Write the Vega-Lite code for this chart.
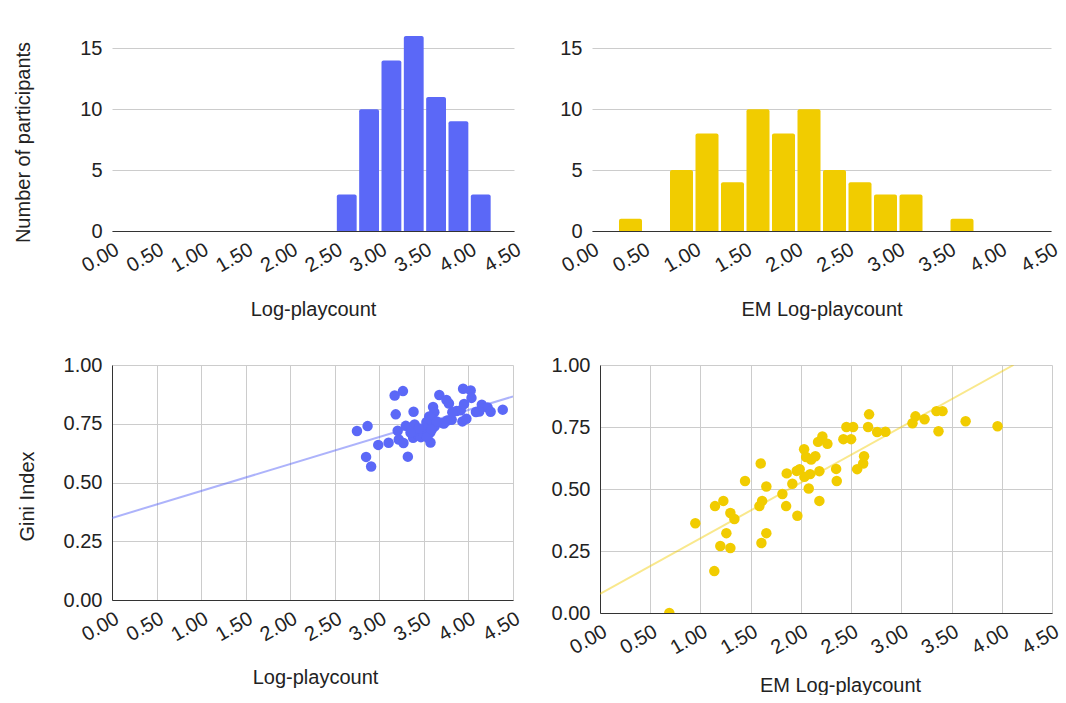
{
  "$schema": "https://vega.github.io/schema/vega-lite/v6.json",
  "background": "white",
  "autosize": {"type": "pad"},
  "padding": {"left": 12, "top": 36, "right": 0, "bottom": 0},
  "config": {
    "font": "Liberation Sans",
    "view": {"stroke": null},
    "axis": {
      "labelFont": "Liberation Sans",
      "labelFontSize": 20,
      "labelColor": "#222222",
      "labelPadding": 10,
      "labelFlush": false,
      "labelOverlap": false,
      "labelBound": false,
      "titleFont": "Liberation Sans",
      "titleFontSize": 20,
      "titleFontWeight": "normal",
      "titleColor": "#222222",
      "gridColor": "#cccccc",
      "domainColor": "#333333",
      "ticks": false
    }
  },
  "datasets": {
    "hist_log": [
      {"bin_start": 2.5, "bin_end": 2.75, "count": 3},
      {"bin_start": 2.75, "bin_end": 3.0, "count": 10},
      {"bin_start": 3.0, "bin_end": 3.25, "count": 14},
      {"bin_start": 3.25, "bin_end": 3.5, "count": 16},
      {"bin_start": 3.5, "bin_end": 3.75, "count": 11},
      {"bin_start": 3.75, "bin_end": 4.0, "count": 9},
      {"bin_start": 4.0, "bin_end": 4.25, "count": 3}
    ],
    "hist_em": [
      {"bin_start": 0.25, "bin_end": 0.5, "count": 1},
      {"bin_start": 0.75, "bin_end": 1.0, "count": 5},
      {"bin_start": 1.0, "bin_end": 1.25, "count": 8},
      {"bin_start": 1.25, "bin_end": 1.5, "count": 4},
      {"bin_start": 1.5, "bin_end": 1.75, "count": 10},
      {"bin_start": 1.75, "bin_end": 2.0, "count": 8},
      {"bin_start": 2.0, "bin_end": 2.25, "count": 10},
      {"bin_start": 2.25, "bin_end": 2.5, "count": 5},
      {"bin_start": 2.5, "bin_end": 2.75, "count": 4},
      {"bin_start": 2.75, "bin_end": 3.0, "count": 3},
      {"bin_start": 3.0, "bin_end": 3.25, "count": 3},
      {"bin_start": 3.5, "bin_end": 3.75, "count": 1}
    ],
    "gini_log": [
      {"playcount": 2.749, "gini": 0.719},
      {"playcount": 2.868, "gini": 0.740},
      {"playcount": 2.851, "gini": 0.609},
      {"playcount": 2.908, "gini": 0.568},
      {"playcount": 2.988, "gini": 0.660},
      {"playcount": 3.104, "gini": 0.669},
      {"playcount": 3.172, "gini": 0.870},
      {"playcount": 3.265, "gini": 0.889},
      {"playcount": 3.184, "gini": 0.790},
      {"playcount": 3.206, "gini": 0.720},
      {"playcount": 3.218, "gini": 0.683},
      {"playcount": 3.271, "gini": 0.668},
      {"playcount": 3.297, "gini": 0.741},
      {"playcount": 3.320, "gini": 0.610},
      {"playcount": 3.384, "gini": 0.801},
      {"playcount": 3.396, "gini": 0.747},
      {"playcount": 3.379, "gini": 0.690},
      {"playcount": 3.435, "gini": 0.702},
      {"playcount": 3.467, "gini": 0.693},
      {"playcount": 3.498, "gini": 0.709},
      {"playcount": 3.554, "gini": 0.707},
      {"playcount": 3.574, "gini": 0.670},
      {"playcount": 3.603, "gini": 0.821},
      {"playcount": 3.617, "gini": 0.799},
      {"playcount": 3.560, "gini": 0.781},
      {"playcount": 3.592, "gini": 0.771},
      {"playcount": 3.622, "gini": 0.739},
      {"playcount": 3.673, "gini": 0.872},
      {"playcount": 3.753, "gini": 0.851},
      {"playcount": 3.781, "gini": 0.836},
      {"playcount": 3.724, "gini": 0.751},
      {"playcount": 3.762, "gini": 0.764},
      {"playcount": 3.812, "gini": 0.767},
      {"playcount": 3.866, "gini": 0.804},
      {"playcount": 3.914, "gini": 0.807},
      {"playcount": 3.951, "gini": 0.834},
      {"playcount": 3.932, "gini": 0.760},
      {"playcount": 3.977, "gini": 0.771},
      {"playcount": 3.940, "gini": 0.899},
      {"playcount": 4.025, "gini": 0.892},
      {"playcount": 4.034, "gini": 0.860},
      {"playcount": 4.084, "gini": 0.800},
      {"playcount": 4.150, "gini": 0.831},
      {"playcount": 4.215, "gini": 0.819},
      {"playcount": 4.249, "gini": 0.801},
      {"playcount": 4.385, "gini": 0.810},
      {"playcount": 3.528, "gini": 0.757},
      {"playcount": 3.509, "gini": 0.730},
      {"playcount": 3.441, "gini": 0.730},
      {"playcount": 3.713, "gini": 0.753},
      {"playcount": 3.819, "gini": 0.799},
      {"playcount": 4.121, "gini": 0.802},
      {"playcount": 3.574, "gini": 0.714},
      {"playcount": 3.535, "gini": 0.693},
      {"playcount": 3.350, "gini": 0.713},
      {"playcount": 3.588, "gini": 0.726},
      {"playcount": 3.645, "gini": 0.760}
    ],
    "trend_log": [
      {"playcount": 0, "gini": 0.349},
      {"playcount": 4.5, "gini": 0.866}
    ],
    "gini_em": [
      {"playcount": 0.690, "gini": 0.0},
      {"playcount": 0.949, "gini": 0.362},
      {"playcount": 1.138, "gini": 0.169},
      {"playcount": 1.145, "gini": 0.431},
      {"playcount": 1.228, "gini": 0.452},
      {"playcount": 1.198, "gini": 0.270},
      {"playcount": 1.258, "gini": 0.322},
      {"playcount": 1.298, "gini": 0.262},
      {"playcount": 1.298, "gini": 0.403},
      {"playcount": 1.338, "gini": 0.379},
      {"playcount": 1.444, "gini": 0.532},
      {"playcount": 1.600, "gini": 0.603},
      {"playcount": 1.587, "gini": 0.431},
      {"playcount": 1.614, "gini": 0.452},
      {"playcount": 1.607, "gini": 0.282},
      {"playcount": 1.656, "gini": 0.322},
      {"playcount": 1.656, "gini": 0.510},
      {"playcount": 1.816, "gini": 0.480},
      {"playcount": 1.853, "gini": 0.431},
      {"playcount": 1.859, "gini": 0.563},
      {"playcount": 1.915, "gini": 0.521},
      {"playcount": 1.958, "gini": 0.573},
      {"playcount": 1.965, "gini": 0.392},
      {"playcount": 1.988, "gini": 0.580},
      {"playcount": 2.032, "gini": 0.660},
      {"playcount": 2.052, "gini": 0.629},
      {"playcount": 2.078, "gini": 0.502},
      {"playcount": 2.035, "gini": 0.549},
      {"playcount": 2.092, "gini": 0.560},
      {"playcount": 2.102, "gini": 0.619},
      {"playcount": 2.144, "gini": 0.632},
      {"playcount": 2.171, "gini": 0.690},
      {"playcount": 2.184, "gini": 0.572},
      {"playcount": 2.184, "gini": 0.452},
      {"playcount": 2.214, "gini": 0.712},
      {"playcount": 2.264, "gini": 0.682},
      {"playcount": 2.351, "gini": 0.581},
      {"playcount": 2.357, "gini": 0.532},
      {"playcount": 2.423, "gini": 0.701},
      {"playcount": 2.453, "gini": 0.750},
      {"playcount": 2.500, "gini": 0.701},
      {"playcount": 2.520, "gini": 0.750},
      {"playcount": 2.560, "gini": 0.580},
      {"playcount": 2.620, "gini": 0.603},
      {"playcount": 2.629, "gini": 0.632},
      {"playcount": 2.669, "gini": 0.750},
      {"playcount": 2.679, "gini": 0.801},
      {"playcount": 2.759, "gini": 0.730},
      {"playcount": 2.842, "gini": 0.731},
      {"playcount": 3.111, "gini": 0.765},
      {"playcount": 3.141, "gini": 0.793},
      {"playcount": 3.231, "gini": 0.781},
      {"playcount": 3.350, "gini": 0.814},
      {"playcount": 3.410, "gini": 0.814},
      {"playcount": 3.370, "gini": 0.733},
      {"playcount": 3.640, "gini": 0.773},
      {"playcount": 3.958, "gini": 0.753}
    ],
    "trend_em": [
      {"playcount": 0, "gini": 0.077},
      {"playcount": 4.117, "gini": 1.0}
    ]
  },
  "columns": 1,
  "align": "none",
  "bounds": "full",
  "spacing": 36,
  "concat": [
    {
      "bounds": "flush",
      "spacing": 78,
      "hconcat": [
        {
          "width": 402,
          "height": 195,
          "data": {"name": "hist_log"},
          "mark": {"type": "bar", "color": "#5b68f7", "xOffset": 1.5, "x2Offset": -1, "cornerRadiusTopLeft": 2, "cornerRadiusTopRight": 2},
          "encoding": {
            "x": {
              "field": "bin_start",
              "type": "quantitative",
              "scale": {"domain": [0, 4.5], "nice": false, "zero": false},
              "axis": {"title": "Log-playcount", "values": [0, 0.5, 1, 1.5, 2, 2.5, 3, 3.5, 4, 4.5], "format": ".2f", "labelAngle": -30, "labelPadding": 8, "grid": false, "titleY": 78, "titleBaseline": "middle"}
            },
            "x2": {"field": "bin_end"},
            "y": {
              "field": "count",
              "type": "quantitative",
              "scale": {"domain": [0, 16], "nice": false},
              "axis": {"title": "Number of participants", "values": [0, 5, 10, 15], "domain": false, "titleX": -79, "titleY": 106, "titleAlign": "center", "titleBaseline": "bottom"}
            },
            "y2": {"datum": 0}
          }
        },
        {
          "width": 459,
          "height": 195,
          "data": {"name": "hist_em"},
          "mark": {"type": "bar", "color": "#f1cc00", "xOffset": 1.5, "x2Offset": -1, "cornerRadiusTopLeft": 2, "cornerRadiusTopRight": 2},
          "encoding": {
            "x": {
              "field": "bin_start",
              "type": "quantitative",
              "scale": {"domain": [0, 4.5], "nice": false, "zero": false},
              "axis": {"title": "EM Log-playcount", "values": [0, 0.5, 1, 1.5, 2, 2.5, 3, 3.5, 4, 4.5], "format": ".2f", "labelAngle": -30, "labelPadding": 8, "grid": false, "titleY": 78, "titleBaseline": "middle"}
            },
            "x2": {"field": "bin_end"},
            "y": {
              "field": "count",
              "type": "quantitative",
              "scale": {"domain": [0, 16], "nice": false},
              "axis": {"title": null, "values": [0, 5, 10, 15], "domain": false}
            },
            "y2": {"datum": 0}
          }
        }
      ]
    },
    {
      "bounds": "flush",
      "spacing": 87,
      "hconcat": [
        {
          "width": 401,
          "height": 235,
          "encoding": {
            "x": {
              "field": "playcount",
              "type": "quantitative",
              "scale": {"domain": [0, 4.5], "nice": false, "zero": false},
              "axis": {"title": "Log-playcount", "values": [0, 0.5, 1, 1.5, 2, 2.5, 3, 3.5, 4, 4.5], "format": ".2f", "labelAngle": -30, "labelPadding": 8, "grid": true, "titleX": 203, "titleY": 77, "titleBaseline": "middle"}
            },
            "y": {
              "field": "gini",
              "type": "quantitative",
              "scale": {"domain": [0, 1], "nice": false},
              "axis": {"title": "Gini Index", "values": [0, 0.25, 0.5, 0.75, 1], "format": ".2f", "grid": true, "titleX": -75, "titleY": 131, "titleAlign": "center", "titleBaseline": "bottom"}
            }
          },
          "layer": [
            {
              "data": {"name": "trend_log"},
              "mark": {"type": "line", "color": "#5b68f7", "opacity": 0.5, "strokeWidth": 2, "clip": true}
            },
            {
              "data": {"name": "gini_log"},
              "mark": {"type": "point", "filled": true, "color": "#5b68f7", "opacity": 1, "size": 110, "clip": true}
            }
          ]
        },
        {
          "width": 452,
          "height": 248,
          "encoding": {
            "x": {
              "field": "playcount",
              "type": "quantitative",
              "scale": {"domain": [0, 4.5], "nice": false, "zero": false},
              "axis": {"title": "EM Log-playcount", "values": [0, 0.5, 1, 1.5, 2, 2.5, 3, 3.5, 4, 4.5], "format": ".2f", "labelAngle": -30, "labelPadding": 8, "grid": true, "titleX": 240, "titleY": 72, "titleBaseline": "middle"}
            },
            "y": {
              "field": "gini",
              "type": "quantitative",
              "scale": {"domain": [0, 1], "nice": false},
              "axis": {"title": null, "values": [0, 0.25, 0.5, 0.75, 1], "format": ".2f", "grid": true}
            }
          },
          "layer": [
            {
              "data": {"name": "trend_em"},
              "mark": {"type": "line", "color": "#f1cc00", "opacity": 0.45, "strokeWidth": 2, "clip": true}
            },
            {
              "data": {"name": "gini_em"},
              "mark": {"type": "point", "filled": true, "color": "#f1cc00", "opacity": 1, "size": 110, "clip": true}
            }
          ]
        }
      ]
    }
  ]
}
